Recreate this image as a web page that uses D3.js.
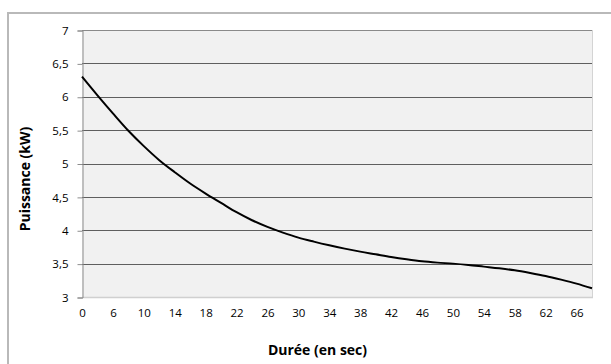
<!DOCTYPE html>
<html>
<head>
<meta charset="utf-8">
<script src="https://cdn.jsdelivr.net/npm/d3@7"></script>
<style>
  body { margin: 0; background: #fff; }
  svg { display: block; }
  .tick text { font-family: "Open Sans", sans-serif; font-size: 11.5px; fill: #000; }
  .title { font-family: "Open Sans", sans-serif; font-size: 14px; font-weight: bold; fill: #000; }
</style>
</head>
<body>
<div id="chart"></div>
<script>
// categories on the x axis (sec), Excel-style category axis
const durees = [0, 3, 6, 8, 10, 12, 14, 16, 18, 20, 22, 24, 26, 28, 30, 32, 34,
  36, 38, 40, 42, 44, 46, 48, 50, 52, 54, 56, 58, 60, 62, 64, 66, 68]
// power (kW)
const puissance = [6.30, 6.02, 5.75, 5.49, 5.26, 5.05, 4.87, 4.70, 4.55, 4.41,
  4.27, 4.15, 4.05, 3.965, 3.89, 3.83, 3.775, 3.725, 3.68, 3.64, 3.60, 3.565,
  3.535, 3.515, 3.50, 3.48, 3.455, 3.43, 3.40, 3.36, 3.315, 3.26, 3.20, 3.13]
const xLabels = [0, 6, 10, 14, 18, 22, 26, 30, 34, 38, 42, 46, 50, 54, 58, 62, 66]
const yTicks = [3, 3.5, 4, 4.5, 5, 5.5, 6, 6.5, 7]

const width = 611
const height = 364
const plot = { left: 82, right: 592, top: 30, bottom: 297 }

const svg = d3.select("#chart")
  .append("svg")
  .attr("width", width)
  .attr("height", height)

// outer chart frame
svg.append("rect")
  .attr("x", 8).attr("y", 13)
  .attr("width", 620).attr("height", 380)
  .attr("fill", "#fff")
  .attr("stroke", "#b9b9b9")
  .attr("stroke-width", 2)

const xScale = d3.scalePoint()
  .domain(durees)
  .range([plot.left, plot.right])

const yScale = d3.scaleLinear()
  .domain([3, 7])
  .range([plot.bottom, plot.top])

// plot area
svg.append("rect")
  .attr("x", plot.left).attr("y", plot.top)
  .attr("width", plot.right - plot.left)
  .attr("height", plot.bottom - plot.top)
  .attr("fill", "#f1f1f1")

svg.append("line")
  .attr("x1", plot.right + 0.5).attr("x2", plot.right + 0.5)
  .attr("y1", plot.top).attr("y2", plot.bottom)
  .attr("stroke", "#d4d4d4")

// gridlines
svg.append("g")
  .selectAll("line")
  .data(yTicks.filter(d => d > 3 && d < 7))
  .enter().append("line")
  .attr("x1", plot.left).attr("x2", plot.right)
  .attr("y1", d => Math.round(yScale(d)) + 0.5)
  .attr("y2", d => Math.round(yScale(d)) + 0.5)
  .attr("stroke", "#5f5f5f")

svg.append("line")
  .attr("x1", plot.left).attr("x2", plot.right)
  .attr("y1", plot.top + 0.5).attr("y2", plot.top + 0.5)
  .attr("stroke", "#8a8a8a")

svg.append("line")
  .attr("x1", plot.left).attr("x2", plot.right + 1)
  .attr("y1", plot.bottom + 0.5).attr("y2", plot.bottom + 0.5)
  .attr("stroke", "#d0d0d0")
  .attr("stroke-width", 1.5)

// y axis
const yAxis = svg.append("g")
  .attr("transform", `translate(${plot.left + 0.5},0.5)`)
  .call(d3.axisLeft(yScale)
    .tickValues(yTicks)
    .tickSize(5)
    .tickPadding(9)
    .tickFormat(d => d3.format("~g")(d).replace(".", ",")))
yAxis.select(".domain").attr("stroke", "#8c8c8c")
yAxis.selectAll(".tick line").attr("stroke", "#8c8c8c")

// x axis (labels only)
const xAxis = svg.append("g")
  .attr("transform", `translate(0,${plot.bottom})`)
  .call(d3.axisBottom(xScale)
    .tickValues(xLabels)
    .tickSize(0)
    .tickPadding(12))
xAxis.select(".domain").remove()

// curve
const line = d3.line()
  .x((d, i) => xScale(durees[i]))
  .y(d => yScale(d))
  .curve(d3.curveCatmullRom)

svg.append("path")
  .datum(puissance)
  .attr("d", line)
  .attr("fill", "none")
  .attr("stroke", "#000")
  .attr("stroke-width", 2)

// axis titles
svg.append("text")
  .attr("class", "title")
  .attr("x", 317.5).attr("y", 355)
  .attr("text-anchor", "middle")
  .text("Durée (en sec)")

svg.append("text")
  .attr("class", "title")
  .attr("transform", "translate(30,179) rotate(-90)")
  .attr("text-anchor", "middle")
  .text("Puissance (kW)")
</script>
</body>
</html>
